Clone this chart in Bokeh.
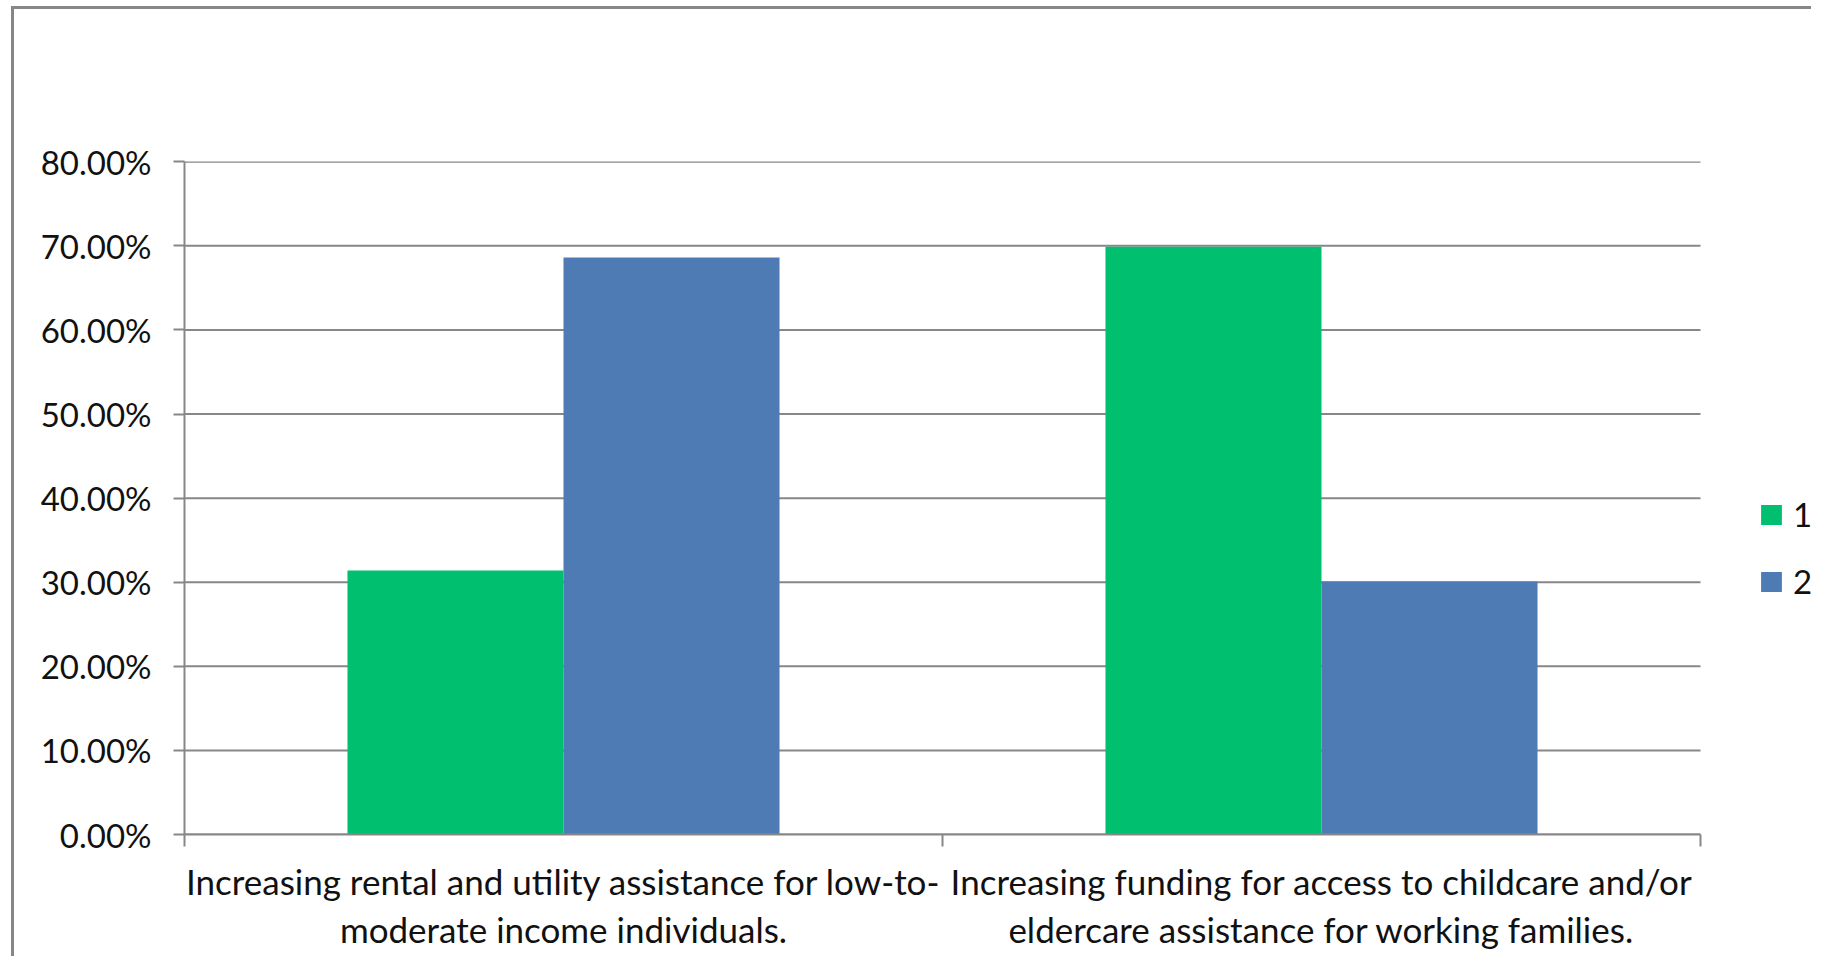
from bokeh.plotting import figure
from bokeh.models import (ColumnDataSource, FixedTicker, NumeralTickFormatter,
                          Range1d, Legend, LegendItem)
from bokeh.embed import file_html
from bokeh.resources import INLINE

# ---- data ----
categories = [
    "Increasing rental and utility assistance for low-to-\nmoderate income individuals.",
    "Increasing funding for access to childcare and/or\neldercare assistance for working families.",
]
series_names = ["1", "2"]
series1 = [0.314, 0.699]
series2 = [0.686, 0.301]
series_colors = ["#00BF6F", "#4F7BB5"]
y_ticks = [0.0, 0.1, 0.2, 0.3, 0.4, 0.5, 0.6, 0.7, 0.8]

FONT = "Lato"
TXT = "#111111"
GRID = "#878787"

OX, OY = 14, 9          # canvas origin on the page (margin + border)
W, H = 1800, 950
FL, FT, FR, FB = 184, 161, 1700, 834   # plot-area edges on the page

n = len(categories)
unit_px = (FR - FL) / n
x_end = n + (OX + W - FR) / unit_px   # extra room on the right for the legend

p = figure(width=W, height=H, output_backend="svg", toolbar_location=None,
           x_range=Range1d(0, x_end), y_range=Range1d(0, 0.8003),
           min_border_left=FL - OX, min_border_right=0,
           min_border_top=FT - OY, min_border_bottom=H - (FB - OY))
p.outline_line_color = None
p.background_fill_color = "white"
p.border_fill_color = "white"
p.styles = {"margin-left": "11px", "margin-top": "6px",
            "border-left": "3px solid #878787", "border-top": "3px solid #878787"}

# horizontal gridlines, spanning only the category area
p.segment(x0=[0] * len(y_ticks), x1=[n] * len(y_ticks), y0=y_ticks, y1=y_ticks,
          line_color=GRID, line_width=2, level="underlay")

bar_w = 0.285
centers = [i + 0.5 for i in range(n)]
renderers = []
for k, (vals, col) in enumerate(zip([series1, series2], series_colors)):
    off = (k - 0.5) * bar_w
    src = ColumnDataSource(dict(x=[c + off for c in centers], top=vals))
    r = p.vbar(x="x", top="top", bottom=0, width=bar_w, source=src,
               fill_color=col, line_color=None)
    renderers.append(r)

# y axis
p.yaxis.ticker = FixedTicker(ticks=y_ticks)
p.yaxis.formatter = NumeralTickFormatter(format="0.00%")
p.yaxis.major_label_text_font = FONT
p.yaxis.major_label_text_font_size = "33px"
p.yaxis.major_label_text_color = TXT
p.yaxis.major_label_standoff = 22
p.yaxis.major_tick_out = 11
p.yaxis.major_tick_in = 0
p.yaxis.minor_tick_out = 0
p.yaxis.minor_tick_in = 0
p.yaxis.axis_line_color = GRID
p.yaxis.axis_line_width = 2
p.yaxis.major_tick_line_color = GRID
p.yaxis.major_tick_line_width = 2

# x axis
p.xaxis.bounds = (0, n)
p.xaxis.ticker = FixedTicker(ticks=centers, minor_ticks=list(range(n + 1)))
p.xaxis.major_label_overrides = {c: lab for c, lab in zip(centers, categories)}
p.xaxis.major_label_text_font = FONT
p.xaxis.major_label_text_font_size = "35px"
p.xaxis.major_label_text_color = TXT
p.xaxis.major_label_text_align = "center"
p.xaxis.major_label_text_line_height = 1.15
p.xaxis.major_label_standoff = 13
p.xaxis.major_tick_out = 0
p.xaxis.major_tick_in = 0
p.xaxis.minor_tick_out = 12
p.xaxis.minor_tick_in = 0
p.xaxis.minor_tick_line_color = GRID
p.xaxis.minor_tick_line_width = 2
p.xaxis.axis_line_color = GRID
p.xaxis.axis_line_width = 2

p.xgrid.grid_line_color = None
p.ygrid.grid_line_color = None

legend = Legend(items=[LegendItem(label=s, renderers=[r]) for s, r in zip(series_names, renderers)],
                location=(1574, 233), orientation="vertical")
legend.label_text_font = FONT
legend.label_text_font_size = "33px"
legend.label_text_color = TXT
legend.glyph_width = 26
legend.glyph_height = 25
legend.label_standoff = 9
legend.spacing = 27
legend.padding = 0
legend.margin = 0
legend.border_line_color = None
legend.background_fill_alpha = 0
p.add_layout(legend, "center")

open("out.html", "w").write(file_html(p, INLINE))
